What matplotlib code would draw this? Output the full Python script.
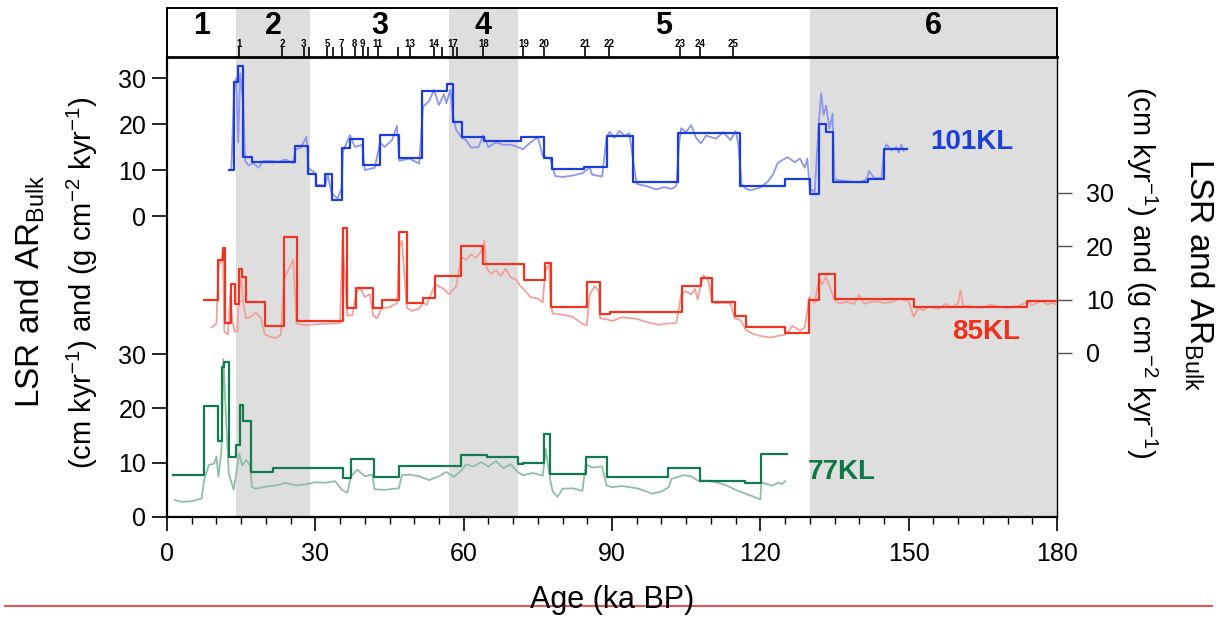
import matplotlib
matplotlib.use('Agg')
import matplotlib.pyplot as plt
from matplotlib.lines import Line2D
from matplotlib.ticker import MultipleLocator

plt.rcParams['font.family'] = ['Liberation Sans', 'DejaVu Sans']
plt.rcParams['mathtext.fontset'] = 'custom'
plt.rcParams['mathtext.rm'] = 'Liberation Sans'
plt.rcParams['mathtext.it'] = 'Liberation Sans:italic'
plt.rcParams['mathtext.bf'] = 'Liberation Sans:bold'

# ---- data (ka BP, cm/kyr or g cm-2 kyr-1) ----
# MIS boundaries and labels
mis_edges = [0, 14, 29, 57, 71, 130, 180]
mis_labels = ['1', '2', '3', '4', '5', '6']
mis_shaded = [(14, 29), (57, 71), (130, 180)]

# Greenland interstadials on top strip
gi_ages = [14.6, 23.3, 27.7, 28.8, 32.4, 33.6, 35.3, 38.0, 39.6, 40.7, 42.6, 46.8,
           49.1, 53.9, 55.7, 57.8, 58.7, 64.0, 72.1, 76.3, 84.5, 89.4, 103.8, 107.8, 114.5]
gi_labels = ['1', '2', '3', '', '5', '', '7', '8', '9', '', '11', '',
             '13', '14', '', '17', '', '18', '19', '20', '21', '22', '23', '24', '25']

# 101KL
kl101_step_age = [12.5, 13.6, 14.4, 15.4, 17.1, 25.8, 28.5, 30.1, 32.0, 33.3, 35.3, 37.0,
                  39.6, 43.1, 46.9, 51.5, 56.6, 57.8, 59.6, 64.1, 71.6, 76.3, 77.8, 84.4,
                  88.9, 94.3, 103.4, 115.9, 125.0, 130.1, 131.9, 133.2, 134.6, 141.7, 145.0, 149.6]
kl101_step_val = [10.0, 29.2, 32.6, 12.8, 11.8, 15.2, 9.1, 6.5, 9.1, 3.6, 14.9, 16.8,
                  11.2, 17.6, 12.7, 27.2, 28.7, 20.4, 17.1, 16.4, 17.2, 12.7, 10.3, 10.6,
                  17.4, 7.3, 18.0, 6.5, 8.0, 4.9, 20.1, 18.3, 7.5, 8.1, 14.5, 14.5]
kl101_raw_age = [13.0, 13.6, 14.0, 14.4, 14.8, 15.4, 15.8, 16.5, 17.5, 18.5, 19.5, 21, 22.5, 24,
                 25.5, 26, 27, 28.2, 28.6, 30, 30.1, 32, 32.5, 33.3, 34.5, 35.3, 35.6, 37, 38,
                 39.5, 40, 42, 43.1, 44, 45.5, 46.5, 47, 49, 51, 51.8, 53, 54, 55, 56, 56.5,
                 57.3, 57.8, 58.5, 59.6, 60.5, 61.5, 63, 64, 65, 66.5, 68, 69.5, 70.5, 72,
                 73.5, 75, 76, 77.5, 78.5, 80, 82, 84, 85.5, 86, 88, 88.9, 89.5, 90.5, 91.5,
                 92.5, 93.5, 94.3, 95, 97, 99, 100.5, 102, 103, 103.6, 104, 105, 106, 107,
                 108, 109, 111, 112.5, 114, 115, 115.5, 116.2, 117, 118, 120, 121.5, 122.5,
                 123.5, 124.5, 125.5, 127, 128, 129, 129.5, 130, 131, 131.8, 132.3, 132.8,
                 133.3, 134, 134.6, 135, 136, 138, 140, 141.5, 142, 143, 144.5, 145, 145.5,
                 146.5, 147.5, 148, 148.5, 149]
kl101_raw_val = [10, 28, 30, 16, 31, 25, 12, 11, 11.5, 10.5, 12, 12, 11.8, 12.3,
                 11.5, 14.5, 14.8, 17.2, 10.5, 9.3, 6.8, 6.6, 9, 5, 3.8, 6, 14.1, 17.6, 15,
                 15.5, 10.0, 10.5, 16, 15, 16.5, 19.6, 12, 12.5, 11.4, 23.8, 25, 27.4, 24.1, 26.5, 24.5,
                 27.5, 22, 18.7, 17, 16.5, 14.9, 15, 17.6, 15, 16, 15.5, 15.5, 15.2, 14.5,
                 16, 17.1, 13, 12.5, 8.7, 8.5, 8.8, 9.3, 10.5, 9, 8.6, 17, 18.3, 17, 18.5,
                 17.5, 18, 12, 7, 6.5, 5.8, 6.3, 5.9, 6.5, 16, 19.1, 18.2, 19.8, 17,
                 15.8, 17.5, 16.8, 18.2, 16.5, 18.5, 16, 7, 6, 5.6, 6.2, 7.5, 8.9,
                 11.5, 12.2, 12.8, 11.7, 12.5, 10.5, 12.5, 6, 5.2, 20, 26.7, 22,
                 24, 19, 22.3, 8, 7.8, 7.5, 7.3, 8, 9.8, 8.3, 8.2, 14, 15.6,
                 14.3, 15, 13.8, 15.5, 14.2]

# 85KL
kl85_step_age = [7.5, 10.4, 11.3, 11.7, 12.9, 13.75, 14.6, 15.1, 16.0, 19.8, 23.7, 26.2, 35.5,
                 36.5, 38.2, 41.7, 43.4, 46.9, 48.5, 51.8, 54.2, 59.5, 63.9, 72.3, 76.5, 77.6,
                 84.9, 87.6, 89.5, 104.1, 108.0, 110.2, 114.8, 117.1, 124.9, 129.9, 131.9,
                 135.0, 151.0, 173.9, 180.0]
kl85_step_val = [9.9, 17.4, 19.6, 5.6, 12.9, 9.2, 15.7, 14.2, 9.6, 5.1, 21.8, 6.0, 23.5,
                 8.4, 12.1, 8.4, 9.9, 22.6, 9.3, 10.4, 14.5, 20.1, 16.7, 13.7, 16.9, 8.7,
                 13.3, 7.3, 7.6, 12.6, 14.1, 9.6, 7.0, 4.8, 3.8, 9.9, 14.9,
                 10.1, 8.7, 9.8, 9.8]
kl85_raw_age = [9.0, 10.0, 10.4, 11.0, 11.3, 11.6, 12.3, 12.8, 13.2, 13.7, 14.2, 14.6, 15.0,
                15.5, 16.0, 17, 18, 19, 19.8, 21, 22, 23, 23.7, 24.5, 25.5, 26.2, 28, 30, 35,
                35.5, 36.5, 37.5, 38.2, 39, 40, 41, 41.7, 42.5, 43.4, 45, 46.5, 47, 47.5, 48.5,
                49.5, 51, 51.8, 52.5, 54.2, 55, 56, 57, 58.5, 59.5, 60.5, 61.5, 62.5, 63.5,
                64.2, 64.6, 65.5, 66.5, 67.5, 68.5, 69.5, 70.5, 71.5, 72.3, 73.5, 75, 76,
                76.5, 77.3, 77.6, 78, 80, 82, 84, 84.9, 85.5, 86.5, 87.3, 87.6, 89, 90, 92,
                95, 97, 99.5, 101, 103, 104, 104.8, 106, 106.8, 107.3, 108, 108.5, 109.5,
                110.2, 111, 112.5, 114, 114.8, 116, 117.1, 118.5, 120, 122, 123.5, 124.9,
                125.5, 126.5, 128, 129, 129.9, 131, 131.9, 132.5, 133.2, 134, 135, 136,
                137.5, 139, 140, 141, 142, 143.5, 145, 146.5, 148, 150, 151, 152, 153, 154,
                156, 157.5, 158.5, 160, 160.5, 161, 162, 164, 165.5, 166.5, 168, 170, 172,
                174, 175, 176, 177, 178, 179, 180]
kl85_raw_val = [4.8, 5.5, 16, 17.5, 19, 4, 3.5, 11, 6, 4, 4.0, 12, 14,
                9, 6.5, 6.8, 7.6, 6.5, 3.5, 3.0, 2.8, 3.4, 14, 15.5, 17.5, 5.5, 5.2, 5.4, 5.6,
                21, 7, 7.1, 11, 12.3, 10.5, 11, 7, 6.5, 8.4, 8.6, 9.3, 20, 21, 8.5,
                7.9, 8.3, 9.5, 9, 12.8, 12.5, 12, 11, 12.5, 18, 17.5, 18.5, 17.8, 19,
                21.1, 16, 14.8, 15.5, 14.5, 15.8, 14.2, 13.8, 12.5, 11.8, 10.5, 10.2, 9.5,
                15.5, 16.5, 9.0, 7.4, 7.2, 6.8, 5.5, 5.2, 11, 12.5, 11.6, 6.5, 6.3, 6.0, 6.7,
                6.4, 5.8, 5.3, 5.5, 5.6, 11, 11.6, 11.0, 12, 10, 13, 14.6, 13.5,
                9.8, 9.3, 9.5, 9.2, 6.5, 6.2, 4.3, 3.6, 3.2, 2.9, 3.2, 3.4,
                3.8, 5.1, 4.2, 4.8, 10.5, 9.4, 14, 12.8, 14.3, 12.5, 10.0, 9.3,
                9.6, 9.2, 10.9, 9.2, 9.5, 9.7, 9.4, 9.5, 10.2, 9.7, 6.8, 8.5, 8.0, 8.7,
                8.3, 9.2, 8.5, 9.3, 11.8, 8.9, 8.8, 8.5, 8.6, 9.1, 8.7, 8.5, 8.8,
                9.5, 9.0, 9.4, 9.7, 9.1, 9.4, 9.0]

# 77KL
kl77_step_age = [1.15, 7.55, 10.4, 11.2, 11.5, 12.6, 14.0, 14.8, 15.3, 17.0, 21.5, 35.5, 37.2,
                 41.9, 46.9, 59.5, 64.8, 70.9, 72.0, 76.3, 77.5, 84.7, 88.9, 101.4, 107.8,
                 116.8, 120.1, 125.3]
kl77_step_val = [7.7, 20.4, 14.0, 27.6, 28.5, 11.0, 13.3, 20.6, 17.7, 8.35, 8.96, 7.1, 10.6,
                 7.3, 9.45, 11.5, 11.0, 9.7, 9.95, 15.3, 7.85, 11.1, 7.3, 8.96, 6.7,
                 6.26, 11.6, 11.6]
kl77_raw_age = [1.6, 3, 5, 7, 7.55, 8.5, 9.5, 10, 10.4, 11, 11.4, 12, 12.5, 13, 13.5, 14.6,
                15.2, 16, 16.8, 17.2, 18, 20, 22, 24, 26, 28, 30, 32, 34, 35.5, 36.5, 37.2,
                38.5, 40, 41.5, 42, 44, 46.9, 47.5, 49, 51, 53, 55, 56.5, 58, 59.5, 60.5, 62,
                63.5, 65, 66.5, 68, 69.5, 70.9, 72, 74, 76, 76.6, 77.5, 78, 79, 80, 82, 84,
                84.7, 86, 88, 88.9, 90, 92, 95, 97, 98, 100, 101.5, 102, 104.5, 106, 107.5,
                109, 111, 113, 115, 117, 119, 120, 120.2, 121.5, 122.5, 123.5, 124.5, 125]
kl77_raw_val = [3.1, 2.8, 2.9, 3.4, 7, 9.6, 9.8, 11.1, 7.4, 12, 29.1, 17, 8, 6.5, 5.0, 11.7,
                9.5, 10.5, 9.5, 5.5, 5.2, 5.6, 5.8, 6.3, 5.8, 6.0, 6.4, 6.3, 6.6, 4.9, 4.5, 7.5,
                8.7, 7.5, 7.8, 5.1, 5.0, 5.3, 7.7, 7.8, 7.5, 6.8, 7.5, 8.3, 7.4, 8.5, 9.7, 9.3,
                10.1, 9.3, 10.3, 9.0, 9.7, 8.3, 7.7, 8.1, 7.6, 12.5, 6.9, 4.7, 3.7, 5.2, 5.3, 4.8,
                9.7, 9.1, 9.3, 5.8, 5.5, 5.7, 5.3, 4.7, 4.3, 4.7, 5.5, 7.0, 7.7, 7.5, 6.6,
                6.7, 6.4, 5.9, 5.0, 4.3, 3.6, 3.2, 6.4, 6.0, 5.8, 6.3, 6.1, 6.6]

grey = '#dedede'

fig = plt.figure(figsize=(12.24, 6.19), dpi=100)
L, W = 167 / 1224, 890 / 1224
rect = [L, 102 / 619, W, 460 / 619]

ax3 = fig.add_axes(rect)                  # 77KL, base axes
ax1 = fig.add_axes(rect, sharex=ax3)      # 101KL
ax2 = fig.add_axes(rect, sharex=ax3)      # 85KL
for a in (ax1, ax2):
    a.patch.set_visible(False)
    for s in a.spines.values():
        s.set_visible(False)
    a.tick_params(axis='x', which='both', bottom=False, labelbottom=False)

ax3.set_xlim(0, 180)
ax3.set_ylim(0, 84.7)
ax1.set_ylim(-65.4, 34.57)
ax2.set_ylim(-30.75, 55.5)

for a, b in mis_shaded:
    ax3.axvspan(a, b, color=grey, lw=0, zorder=0)

# light (LSR) curves under the step (AR) curves
ax1.plot(kl101_raw_age, kl101_raw_val, color='#8e97ec', lw=1.3)
ax1.step(kl101_step_age, kl101_step_val, where='post', color='#1c3cdc', lw=1.6)
ax2.plot(kl85_raw_age, kl85_raw_val, color='#f3a19b', lw=1.3)
ax2.step(kl85_step_age, kl85_step_val, where='post', color='#ee3522', lw=1.6)
ax3.plot(kl77_raw_age, kl77_raw_val, color='#8fbfa5', lw=1.3)
ax3.step(kl77_step_age, kl77_step_val, where='post', color='#127a4c', lw=1.6)

ax1.text(162.8, 16.1, '101KL', color='#1a40dc', fontsize=20, fontweight='bold', ha='center', va='center')
ax2.text(165.6, 3.9, '85KL', color='#f0301c', fontsize=20, fontweight='bold', ha='center', va='center')
ax3.text(136.5, 8.3, '77KL', color='#0e7745', fontsize=20, fontweight='bold', ha='center', va='center')

# spines / ticks
ax3.spines['top'].set_visible(False)
ax3.spines['left'].set_linewidth(1.6)
ax3.spines['bottom'].set_linewidth(1.6)
ax3.spines['right'].set_linewidth(1.0)
ax3.xaxis.set_major_locator(MultipleLocator(30))
ax3.xaxis.set_minor_locator(MultipleLocator(5))
ax3.tick_params(axis='x', which='major', direction='out', length=10, width=1.2, labelsize=18, pad=8)
ax3.tick_params(axis='x', which='minor', direction='out', length=5, width=1.0)
ax3.set_yticks([0, 10, 20, 30])
ax1.set_yticks([0, 10, 20, 30])
for a in (ax1, ax3):
    a.tick_params(axis='y', direction='out', length=11, width=1.2, labelsize=18, pad=4)
ax2.yaxis.tick_right()
ax2.set_yticks([0, 10, 20, 30])
ax2.tick_params(axis='y', direction='out', length=11, width=1.0, color='#555555', labelsize=18, pad=10)

# top strip with MIS and GI numbers
axt = fig.add_axes([L, 562 / 619, W, 49 / 619])
axt.set_xlim(0, 180)
axt.set_ylim(0, 1)
for a, b in mis_shaded:
    axt.axvspan(a, b, color=grey, lw=0, zorder=0)
for s in axt.spines.values():
    s.set_linewidth(1.4)
axt.spines['bottom'].set_linewidth(2.0)
axt.set_yticks([])
axt.set_xticks(gi_ages)
axt.tick_params(axis='x', which='major', direction='in', length=7, width=1.2, labelbottom=False)
axt.tick_params(axis='x', which='minor', bottom=False)
for age, lab in zip(gi_ages, gi_labels):
    if lab:
        axt.text(age, 0.17, lab, ha='center', va='bottom', fontsize=7, fontweight='bold')
for i, lab in enumerate(mis_labels):
    mid = (mis_edges[i] + mis_edges[i + 1]) / 2
    axt.text(mid, 0.64, lab, ha='center', va='center', fontsize=22, fontweight='bold')

# axis titles
line1 = r'LSR and AR$_{\mathrm{Bulk}}$'
line2 = r'(cm kyr$^{-1}$) and (g cm$^{-2}$ kyr$^{-1}$)'
fig.text(30 / 1224, 1 - 291 / 619, line1, rotation=90, ha='center', va='center', fontsize=24)
fig.text(82 / 1224, 1 - 283 / 619, line2, rotation=90, ha='center', va='center', fontsize=21)
fig.text(1199 / 1224, 1 - 275 / 619, line1, rotation=270, ha='center', va='center', fontsize=24)
fig.text(1142 / 1224, 1 - 272 / 619, line2, rotation=270, ha='center', va='center', fontsize=21)
fig.text(612 / 1224, 1 - 600 / 619, 'Age (ka BP)', ha='center', va='center', fontsize=22)

fig.add_artist(Line2D([0.004, 0.99], [1 - 606 / 619] * 2, transform=fig.transFigure,
                      color='#e85555', lw=1.5))

fig.savefig('out.png', dpi=100)
